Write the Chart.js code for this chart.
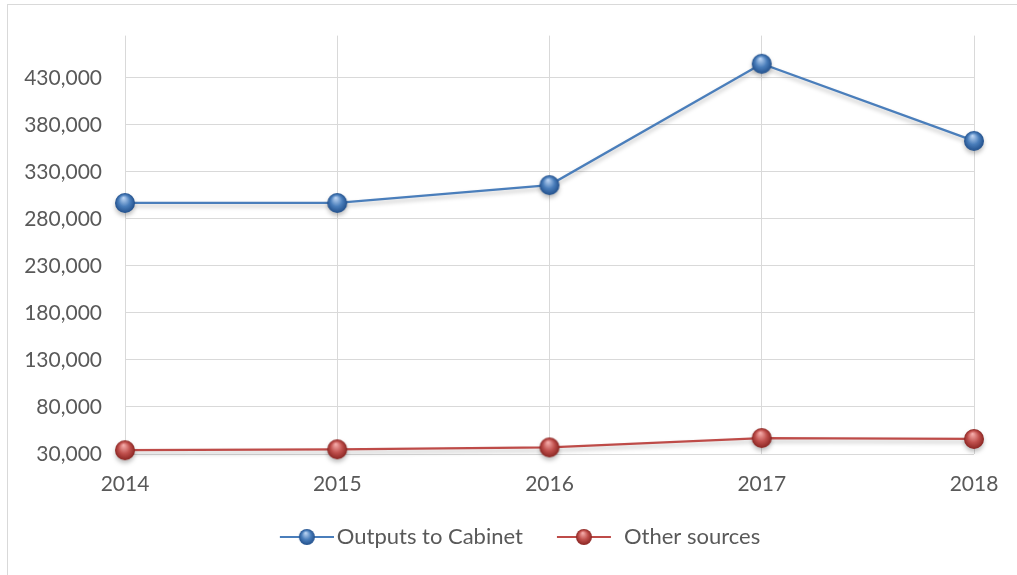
<!DOCTYPE html>
<html>
<head>
<meta charset="utf-8">
<title>Outputs to Cabinet / Other sources</title>
<script src="https://cdn.jsdelivr.net/npm/chart.js"></script>
<style>
  html, body { margin: 0; padding: 0; background: #fff; overflow: hidden; }
  #frame { position: absolute; left: 7px; top: 4px; width: 1040px; height: 600px; border: 1px solid #d9d9d9; }
  #wrap { position: absolute; left: 0; top: 0; width: 1017px; height: 575px; }
</style>
</head>
<body>
<div id="frame"></div>
<div id="wrap"><canvas id="chart"></canvas></div>
<script>
// data
const years = ['2014', '2015', '2016', '2017', '2018'];
const cabinetOutputs = [297000, 297000, 316000, 445000, 363000];
const otherSources = [34000, 35000, 37000, 47000, 46000];
const yMin = 30000;
const yMax = 475000;
const yStep = 50000;

const textColor = '#595959';
const gridColor = '#d9d9d9';

// glossy ball used as point marker
function makeSphere(r, base, light, dark) {
    const pad = 1;
    const c = document.createElement('canvas');
    c.width = c.height = (r + pad) * 2;
    const g = c.getContext('2d');
    const cx = r + pad, cy = r + pad;
    const grad = g.createRadialGradient(cx - r * 0.15, cy - r * 0.5, r * 0.05, cx, cy, r);
    grad.addColorStop(0, light);
    grad.addColorStop(0.55, base);
    grad.addColorStop(1, dark);
    g.beginPath();
    g.arc(cx, cy, r, 0, Math.PI * 2);
    g.fillStyle = grad;
    g.fill();
    return c;
}

// line + ball legend marker, x0..x1 is the visible part inside a 94px image
function makeLegendMarker(color, sphere, x0, x1) {
    const c = document.createElement('canvas');
    c.width = 94; c.height = 22;
    const g = c.getContext('2d');
    g.strokeStyle = color;
    g.lineWidth = 2;
    g.beginPath();
    g.moveTo(x0, 11); g.lineTo(x1, 11);
    g.stroke();
    const mid = (x0 + x1) / 2;
    g.drawImage(sphere, mid - sphere.width / 2, 11 - sphere.height / 2);
    return c;
}

const blueBall = makeSphere(10, '#4a7ebb', '#b8d2f2', '#22508c');
const redBall = makeSphere(10, '#c0504d', '#f4aaa8', '#8a2522');
const legendMarkers = [
    makeLegendMarker('#4a7ebb', makeSphere(8, '#4a7ebb', '#b8d2f2', '#22508c'), 40, 94),
    makeLegendMarker('#be4b48', makeSphere(8, '#c0504d', '#f4aaa8', '#8a2522'), 30, 84)
];

// soft drop shadow under the lines
const shadowPlugin = {
    id: 'lineShadow',
    beforeDatasetDraw(chart) {
        const ctx = chart.ctx;
        ctx.save();
        ctx.shadowColor = 'rgba(0,0,0,0.25)';
        ctx.shadowBlur = 4;
        ctx.shadowOffsetY = 3;
    },
    afterDatasetDraw(chart) {
        chart.ctx.restore();
    }
};

// nudge the legend a little to the right, like in the original
const legendShift = {
    id: 'legendShift',
    afterUpdate(chart) {
        chart.legend.left += 17;
        chart.legend.right += 17;
    }
};

Chart.defaults.font.family = 'Lato';
Chart.defaults.color = textColor;

new Chart(document.getElementById('chart'), {
    type: 'line',
    data: {
        labels: years,
        datasets: [
            {
                label: 'Outputs to Cabinet',
                data: cabinetOutputs,
                borderColor: '#4a7ebb',
                borderWidth: 2.25,
                pointStyle: blueBall,
                pointRadius: 10,
                tension: 0,
                clip: false
            },
            {
                label: 'Other sources',
                data: otherSources,
                borderColor: '#be4b48',
                borderWidth: 2.25,
                pointStyle: redBall,
                pointRadius: 10,
                tension: 0,
                clip: false
            }
        ]
    },
    options: {
        responsive: true,
        maintainAspectRatio: false,
        animation: false,
        layout: { padding: { top: 33, right: 43, left: 0, bottom: 17 } },
        scales: {
            x: {
                offset: false,
                border: { display: false },
                grid: { color: gridColor, drawTicks: false },
                ticks: { padding: 18, font: { size: 21 }, color: textColor },
                afterFit(s) { s.height = 60; }
            },
            y: {
                min: yMin,
                max: yMax,
                border: { display: false },
                grid: { color: gridColor, drawTicks: false },
                ticks: {
                    stepSize: yStep,
                    padding: 23,
                    font: { size: 21 },
                    color: textColor,
                    callback: v => v.toLocaleString('en-US')
                },
                afterBuildTicks(s) {
                    const t = [];
                    for (let v = yMin; v <= yMax; v += yStep) t.push({ value: v });
                    s.ticks = t;
                },
                afterFit(s) { s.width = 125; }
            }
        },
        plugins: {
            legend: {
                position: 'bottom',
                labels: {
                    usePointStyle: true,
                    pointStyleWidth: 78,
                    padding: 12,
                    font: { size: 22 },
                    color: textColor,
                    generateLabels(chart) {
                        const items = Chart.defaults.plugins.legend.labels.generateLabels(chart);
                        items.forEach((it, i) => { it.pointStyle = legendMarkers[i]; });
                        return items;
                    }
                }
            },
            tooltip: { enabled: false }
        }
    },
    plugins: [shadowPlugin, legendShift]
});
</script>
</body>
</html>
